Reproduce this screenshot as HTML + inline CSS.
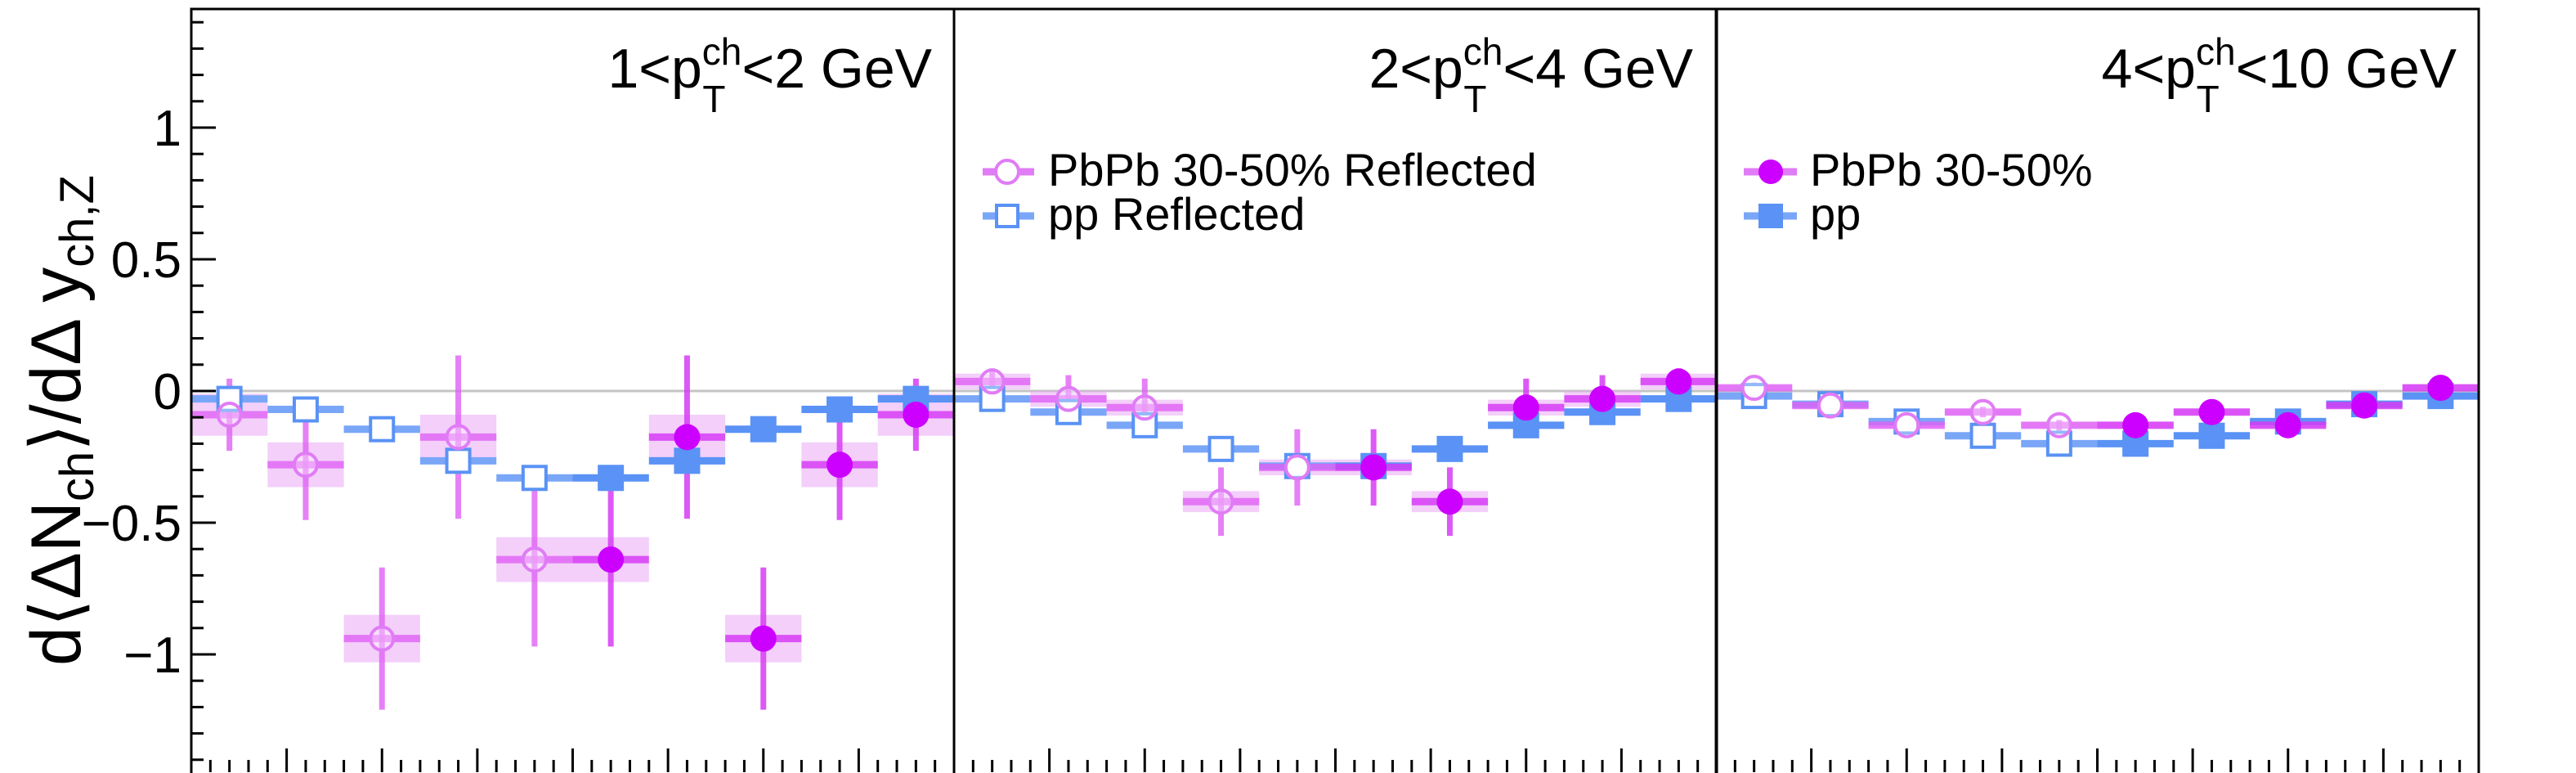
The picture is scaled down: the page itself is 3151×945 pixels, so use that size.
<!DOCTYPE html>
<html><head><meta charset="utf-8"><style>
html,body{margin:0;padding:0;background:#fff;}
svg{display:block;font-family:"Liberation Sans",sans-serif;}
</style></head><body>
<svg id="chart" width="3151" height="945" viewBox="0 0 3151 945">
<g id="bg"></g>
</svg>
<script>
const panels = ["1<pT<2", "2<pT<4", "4<pT<10"];
const pbpbVals = [
 [-0.09,-0.28,-0.94,-0.175,-0.64,-0.64,-0.175,-0.94,-0.28,-0.09],
 [0.036,-0.03,-0.063,-0.42,-0.29,-0.29,-0.42,-0.063,-0.03,0.036],
 [0.012,-0.055,-0.13,-0.08,-0.13,-0.13,-0.08,-0.13,-0.055,0.012]];
const pbpbStat = [
 [0.137,0.21,0.27,0.31,0.33,0.33,0.31,0.27,0.21,0.137],
 [0.05,0.09,0.11,0.13,0.145,0.145,0.13,0.11,0.09,0.05],
 [0.02,0.02,0.02,0.02,0.02,0.02,0.02,0.02,0.02,0.02]];
const pbpbSys = [
 [0.08,0.085,0.09,0.085,0.085,0.085,0.085,0.09,0.085,0.08],
 [0.03,0.03,0.03,0.04,0.03,0.03,0.04,0.03,0.03,0.03],
 [0.01,0.01,0.01,0.01,0.01,0.01,0.01,0.01,0.01,0.01]];
const ppVals = [
 [-0.03,-0.07,-0.145,-0.265,-0.33,-0.33,-0.265,-0.145,-0.07,-0.03],
 [-0.03,-0.08,-0.13,-0.22,-0.285,-0.285,-0.22,-0.13,-0.08,-0.03],
 [-0.019,-0.05,-0.116,-0.17,-0.2,-0.2,-0.17,-0.116,-0.05,-0.019]];
const yTicks = [-1,-0.5,0,0.5,1];
const yTickLabels = ["\u22121","\u22120.5","0","0.5","1"];

const NS="http://www.w3.org/2000/svg";
const svg=document.getElementById("chart");
const PL=[234,1167,2099], PW=933, TOP=11, BOT=944;
const nb=10;
function ys(v){return 478-v*322;}
function xs(p,i){return PL[p]+(i+0.5)*PW/nb;}
function mk(tag,attrs,parent){const e=document.createElementNS(NS,tag);for(const k in attrs)e.setAttribute(k,attrs[k]);(parent||svg).appendChild(e);return e;}

for(let p=0;p<3;p++){
 const l=mk("line",{x1:PL[p],x2:PL[p]+PW,y1:ys(0),y2:ys(0),stroke:"#c4c4c4","stroke-width":3});
 
 
}
const bw=PW/nb;
for(let p=0;p<3;p++){
 const g=mk("g",{});
 
 
 for(let i=0;i<nb;i++){
  const v=pbpbVals[p][i],s=pbpbSys[p][i];
  const r=mk("rect",{x:xs(p,i)-bw/2,y:ys(v+s),width:bw,height:Math.max(ys(v-s)-ys(v+s),0),fill:"#e9a8f5","fill-opacity":0.55},g);
  
  
 }
 for(let i=0;i<nb;i++){
  const v=ppVals[p][i];
  const col=i<5?"#7aa6f7":"#5a92f5";
  const l=mk("line",{x1:xs(p,i)-bw/2,x2:xs(p,i)+bw/2,y1:ys(v),y2:ys(v),stroke:col,"stroke-width":9},g);
  
  
 }
 for(let i=0;i<nb;i++){
  const v=pbpbVals[p][i],e=pbpbStat[p][i];
  const col=i<5?"rgba(224,96,245,0.8)":"rgba(214,60,245,0.85)";
  const l=mk("line",{x1:xs(p,i)-bw/2,x2:xs(p,i)+bw/2,y1:ys(v),y2:ys(v),stroke:col,"stroke-width":9},g);
  
  
  const eb=mk("line",{x1:xs(p,i),x2:xs(p,i),y1:ys(v+e),y2:ys(v-e),stroke:col,"stroke-width":7},g);
  
  
 }
 for(let i=0;i<nb;i++){
  const v=ppVals[p][i];
  let m;
  if(i<5) m=mk("rect",{x:xs(p,i)-14,y:ys(v)-14,width:28,height:28,fill:"#fff",stroke:"#5a92f5","stroke-width":4},g);
  else m=mk("rect",{x:xs(p,i)-16,y:ys(v)-16,width:32,height:32,fill:"#5a92f5"},g);
  
  
 }
 for(let i=0;i<nb;i++){
  const v=pbpbVals[p][i];
  let m;
  if(i<5) m=mk("circle",{cx:xs(p,i),cy:ys(v),r:14,fill:"rgba(255,255,255,0.35)",stroke:"#e07cf5","stroke-width":4},g);
  else m=mk("circle",{cx:xs(p,i),cy:ys(v),r:16,fill:"#cc00ff"},g);
  
  
 }
}
for(let p=0;p<3;p++){
 const f=mk("rect",{x:PL[p],y:TOP,width:PW,height:BOT-TOP+4,fill:"none",stroke:"#000","stroke-width":3});
 
 
 for(let k=1;k<40;k++){
  const x=PL[p]+k*PW/40, maj=k%5===0;
  const t=mk("line",{x1:x,x2:x,y1:BOT,y2:BOT-(maj?29:15),stroke:"#000","stroke-width":3});
  
  
 }
}
for(let k=-14;k<=14;k++){
 const v=k/10, maj=k%5===0, y=ys(v);
 const t=mk("line",{x1:PL[0],x2:PL[0]+(maj?30:15),y1:y,y2:y,stroke:"#000","stroke-width":3});
 
 
}
yTicks.forEach((v,i)=>{
 const t=mk("text",{x:222,y:ys(v)+22,"text-anchor":"end","font-size":62,fill:"#000"});
 t.textContent=yTickLabels[i];
 
 
});
</script>
<div style="position:absolute;left:0;top:0;width:3151px;height:945px;pointer-events:none;">
<svg width="3151" height="945" style="position:absolute;left:0;top:0" font-family="Liberation Sans, sans-serif">
 <text transform="translate(98,814) rotate(-90)" font-size="86" fill="#000">d⟨ΔN<tspan font-size="58" dy="16">ch</tspan><tspan dy="-16">⟩/dΔ y</tspan><tspan font-size="58" dy="16">ch,Z</tspan></text>
 <text x="1140" y="107" text-anchor="end" font-size="68" fill="#000">1&lt;p<tspan font-size="46" dy="-28">ch</tspan><tspan font-size="46" dx="-48" dy="58">T</tspan><tspan dx="20" dy="-30">&lt;2 GeV</tspan></text>
 <text x="2071" y="107" text-anchor="end" font-size="68" fill="#000">2&lt;p<tspan font-size="46" dy="-28">ch</tspan><tspan font-size="46" dx="-48" dy="58">T</tspan><tspan dx="20" dy="-30">&lt;4 GeV</tspan></text>
 <text x="3005" y="107" text-anchor="end" font-size="68" fill="#000">4&lt;p<tspan font-size="46" dy="-28">ch</tspan><tspan font-size="46" dx="-48" dy="58">T</tspan><tspan dx="20" dy="-30">&lt;10 GeV</tspan></text>
 <g>
  <line x1="1202" x2="1265" y1="210" y2="210" stroke="#e07cf5" stroke-width="9"/>
  <circle cx="1232" cy="210" r="14" fill="#fff" stroke="#e07cf5" stroke-width="4"/>
  <text x="1282" y="227" font-size="56" fill="#000">PbPb 30-50% Reflected</text>
  <line x1="1202" x2="1265" y1="264" y2="264" stroke="#7aa6f7" stroke-width="9"/>
  <rect x="1219" y="251" width="26" height="26" fill="#fff" stroke="#5a92f5" stroke-width="4"/>
  <text x="1282" y="281" font-size="56" fill="#000">pp Reflected</text>
 </g>
 <g>
  <line x1="2133" x2="2198" y1="210" y2="210" stroke="#e07cf5" stroke-width="9"/>
  <circle cx="2166" cy="210" r="15" fill="#cc00ff"/>
  <text x="2214" y="227" font-size="56" fill="#000">PbPb 30-50%</text>
  <line x1="2133" x2="2198" y1="264" y2="264" stroke="#7aa6f7" stroke-width="9"/>
  <rect x="2151" y="249" width="30" height="30" fill="#5a92f5"/>
  <text x="2214" y="281" font-size="56" fill="#000">pp</text>
 </g>
</svg>
</div>
</body></html>
